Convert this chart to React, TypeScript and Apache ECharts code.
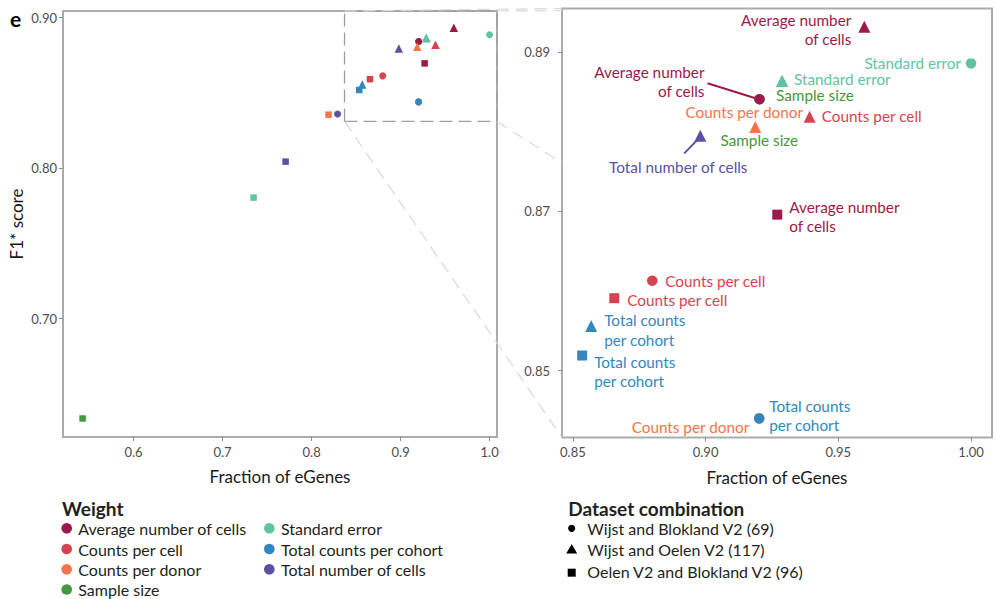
import React, { useEffect, useRef } from "react";
import * as echarts from "echarts";

// ---------- data ----------
const weights = [
  "Average number of cells",
  "Counts per cell",
  "Counts per donor",
  "Sample size",
  "Standard error",
  "Total counts per cohort",
  "Total number of cells",
];
const weightColors = ["#9C1A4B", "#D6434F", "#F37549", "#43993E", "#62C3A4", "#3288BD", "#5D4FA2"];

const datasets = ["Wijst and Blokland V2 (69)", "Wijst and Oelen V2 (117)", "Oelen V2 and Blokland V2 (96)"];
const datasetSymbols = ["circle", "triangle", "rect"];

// values per weight (same order as `weights`)
const fracWijstBlokland = [0.9203, 0.8799, 0.9202, 0.9203, 1.0, 0.9202, 0.8292];
const f1WijstBlokland = [0.8841, 0.8613, 0.844, 0.8841, 0.8886, 0.844, 0.836];
const fracWijstOelen = [0.9598, 0.9392, 0.9187, 0.9288, 0.9288, 0.8569, 0.898];
const f1WijstOelen = [0.8932, 0.8819, 0.8806, 0.8864, 0.8864, 0.8556, 0.8795];
const fracOelenBlokland = [0.927, 0.8656, 0.819, 0.5427, 0.7348, 0.8535, 0.7708];
const f1OelenBlokland = [0.8696, 0.8591, 0.8355, 0.6336, 0.7804, 0.8519, 0.8043];

const overviewXTicks = [0.6, 0.7, 0.8, 0.9, 1.0];
const overviewYTicks = [0.7, 0.8, 0.9];
const zoomXTicks = [0.85, 0.9, 0.95, 1.0];
const zoomYTicks = [0.85, 0.87, 0.89];

const overviewXRange = [0.5207, 1.0083];
const overviewYRange = [0.6213, 0.9044];
const zoomXRange = [0.8459, 1.0079];
const zoomYRange = [0.8416, 0.8955];
// dashed window drawn on the overview
const zoomWindowX = [0.837, 1.0083];
const zoomWindowY = [0.831, 0.9044];

// drawing order of weights (later ones drawn on top)
const drawOrder = [3, 2, 0, 1, 4, 5, 6];

// ---------- label layout for zoomed panel (key: dataset-weight) ----------
const zoomLabels: Record<string, { text: string; align: string; dx: number; dy: number }> = {
  "1-0": { text: "Average number\nof cells", align: "right", dx: -13, dy: 3 },
  "0-4": { text: "Standard error", align: "right", dx: -10, dy: 0 },
  "0-0": { text: "Average number\nof cells", align: "right", dx: -55, dy: -18 },
  "1-4": { text: "Standard error", align: "left", dx: 12, dy: -2 },
  "1-3": { text: "Sample size", align: "left", dx: -6, dy: 14.5 },
  "1-2": { text: "Counts per donor", align: "center", dx: -11, dy: -15 },
  "1-1": { text: "Counts per cell", align: "left", dx: 12, dy: -1 },
  "0-3": { text: "Sample size", align: "left", dx: -39, dy: 41 },
  "1-6": { text: "Total number of cells", align: "center", dx: -22, dy: 31 },
  "2-0": { text: "Average number\nof cells", align: "left", dx: 12, dy: 2 },
  "0-1": { text: "Counts per cell", align: "left", dx: 13, dy: 0 },
  "2-1": { text: "Counts per cell", align: "left", dx: 13, dy: 2 },
  "1-5": { text: "Total counts\nper cohort", align: "left", dx: 13, dy: 4 },
  "2-5": { text: "Total counts\nper cohort", align: "left", dx: 12, dy: 16 },
  "0-5": { text: "Total counts\nper cohort", align: "left", dx: 10, dy: -3 },
  "0-2": { text: "Counts per donor", align: "right", dx: -10, dy: 9 },
};

const FONT = "Lato";
const fracs = [fracWijstBlokland, fracWijstOelen, fracOelenBlokland];
const f1s = [f1WijstBlokland, f1WijstOelen, f1OelenBlokland];
const symbolSizes = [
  [7, 8.5, 6.5],
  [10.5, 12, 10],
];

function buildPoints(panel: number) {
  const items: any[] = [];
  datasets.forEach((_d, di) => {
    drawOrder.forEach((wi) => {
      const w = weights[wi];
      const item: any = {
        name: w,
        value: [fracs[di][wi], f1s[di][wi]],
        symbol: datasetSymbols[di],
        symbolSize: symbolSizes[panel][di],
        itemStyle: { color: weightColors[wi], opacity: 1 },
      };
      if (panel === 1) {
        const lab = zoomLabels[`${di}-${wi}`];
        if (lab) {
          const multi = lab.text.indexOf("\n") >= 0;
          item.label = {
            show: true,
            position: "inside",
            formatter: lab.text,
            offset: [lab.dx, lab.dy],
            align: lab.align,
            verticalAlign: "middle",
            color: weightColors[wi],
            fontSize: 15.3,
            fontFamily: FONT,
            lineHeight: multi ? 19.3 : 16,
            textBorderWidth: 0,
          };
        } else {
          item.label = { show: false };
        }
      }
      items.push(item);
    });
  });
  return items;
}

function axisCommon(ticks: number[], digits: number, margin: number) {
  return {
    type: "value" as const,
    axisLine: { show: false },
    splitLine: { show: false },
    axisTick: { show: true, length: 4, lineStyle: { color: "#8c8c8c", width: 1 }, customValues: ticks },
    axisLabel: {
      customValues: ticks,
      formatter: (v: number) => v.toFixed(digits),
      color: "#4d4d4d",
      fontSize: 13,
      fontFamily: FONT,
      margin,
    },
    nameLocation: "middle" as const,
    nameTextStyle: { fontSize: 17, color: "#1a1a1a", fontFamily: FONT },
  };
}

export default function App() {
  const ref = useRef<HTMLDivElement>(null);
  useEffect(() => {
    const chart = echarts.init(ref.current!, null, { renderer: "svg" });
    chart.setOption({
      animation: false,
      backgroundColor: "#ffffff",
      grid: [
        { left: 63, top: 11, width: 434, height: 426, show: true, borderColor: "#ababab", borderWidth: 2, backgroundColor: "rgba(0,0,0,0)" },
        { left: 562, top: 8.5, width: 430, height: 429, show: true, borderColor: "#ababab", borderWidth: 2, backgroundColor: "rgba(0,0,0,0)" },
      ],
      xAxis: [
        { ...axisCommon(overviewXTicks, 1, 8), gridIndex: 0, min: overviewXRange[0], max: overviewXRange[1], name: "Fraction of eGenes", nameGap: 31 },
        { ...axisCommon(zoomXTicks, 2, 8), gridIndex: 1, min: zoomXRange[0], max: zoomXRange[1], name: "Fraction of eGenes", nameGap: 31 },
      ],
      yAxis: [
        { ...axisCommon(overviewYTicks, 2, 6), gridIndex: 0, min: overviewYRange[0], max: overviewYRange[1], name: "F1* score", nameGap: 38 },
        { ...axisCommon(zoomYTicks, 2, 12), gridIndex: 1, min: zoomYRange[0], max: zoomYRange[1] },
      ],
      series: [
        {
          type: "scatter",
          xAxisIndex: 0,
          yAxisIndex: 0,
          data: buildPoints(0),
          silent: true,
          z: 3,
          markArea: {
            silent: true,
            itemStyle: { color: "rgba(0,0,0,0)", borderColor: "#9e9e9e", borderWidth: 1.3, borderType: [13, 6] },
            data: [[{ coord: [zoomWindowX[0], zoomWindowY[0]] }, { coord: [zoomWindowX[1], zoomWindowY[1]] }]],
          },
        },
        {
          type: "scatter",
          xAxisIndex: 1,
          yAxisIndex: 1,
          data: buildPoints(1),
          clip: true,
          silent: true,
          z: 3,
        },
      ],
    });

    const toPx = (g: number, v: number[]) => chart.convertToPixel({ xAxisIndex: g, yAxisIndex: g }, v) as number[];
    const boxTL = toPx(0, [zoomWindowX[0], zoomWindowY[1]]);
    const boxTR = toPx(0, [zoomWindowX[1], zoomWindowY[1]]);
    const boxBL = toPx(0, [zoomWindowX[0], zoomWindowY[0]]);
    const boxBR = toPx(0, [zoomWindowX[1], zoomWindowY[0]]);
    const zTL = toPx(1, [zoomXRange[0], zoomYRange[1]]);
    const zTR = toPx(1, [zoomXRange[1], zoomYRange[1]]);
    const zBL = toPx(1, [zoomXRange[0], zoomYRange[0]]);
    const zBR = toPx(1, [zoomXRange[1], zoomYRange[0]]);
    const zoomLeft = zTL[0];
    const connectors = [
      [boxTL, zTL],
      [boxTR, zTR],
      [boxBL, zBL],
      [boxBR, zBR],
    ].map(([a, b]) => {
      let end = b;
      if (b[0] > zoomLeft) {
        const t = (zoomLeft - a[0]) / (b[0] - a[0]);
        end = [zoomLeft, a[1] + t * (b[1] - a[1])];
      }
      return {
        type: "line",
        silent: true,
        z: 1,
        shape: { x1: a[0], y1: a[1], x2: end[0], y2: end[1] },
        style: { stroke: "#d9d9d9", lineWidth: 1.2, lineDash: [12, 7] },
      };
    });

    // leader lines for two labels
    const avgCircle = toPx(1, [fracWijstBlokland[0], f1WijstBlokland[0]]);
    const cellsTri = toPx(1, [fracWijstOelen[6], f1WijstOelen[6]]);
    const leaders = [
      { p: avgCircle, a: [-4, -1], b: [-52, -16], color: weightColors[0] },
      { p: cellsTri, a: [-2, 3], b: [-16, 17.5], color: weightColors[6] },
    ].map((l) => ({
      type: "line",
      silent: true,
      z: 2,
      shape: { x1: l.p[0] + l.a[0], y1: l.p[1] + l.a[1], x2: l.p[0] + l.b[0], y2: l.p[1] + l.b[1] },
      style: { stroke: l.color, lineWidth: 2 },
    }));

    // legends
    const legend: any[] = [];
    legend.push({ type: "text", x: 62, y: 508, style: { text: "Weight", fontSize: 19, fontWeight: "bold", fontFamily: FONT, fill: "#231f20", verticalAlign: "middle" } });
    const rowsY = [528.3, 549, 569.3, 589.5];
    weights.forEach((w, i) => {
      const col = i < 4 ? 0 : 1;
      const row = i < 4 ? i : i - 4;
      const cx = col === 0 ? 66.7 : 269.3;
      const y = rowsY[row];
      legend.push({ type: "circle", shape: { cx, cy: y, r: 5.3 }, style: { fill: weightColors[i] } });
      legend.push({ type: "text", x: cx + 11.6, y, style: { text: w, fontSize: 16, fontFamily: FONT, fill: "#231f20", verticalAlign: "middle" } });
    });
    legend.push({ type: "text", x: 568.3, y: 508, style: { text: "Dataset combination", fontSize: 19, fontWeight: "bold", fontFamily: FONT, fill: "#231f20", verticalAlign: "middle" } });
    const dsY = [528.3, 549, 571.7];
    datasets.forEach((d, i) => {
      const cx = 571.7;
      const y = dsY[i];
      if (datasetSymbols[i] === "circle") legend.push({ type: "circle", shape: { cx, cy: y, r: 3.6 }, style: { fill: "#000" } });
      else if (datasetSymbols[i] === "triangle")
        legend.push({ type: "polygon", shape: { points: [[cx, y - 5], [cx + 5.5, y + 4.5], [cx - 5.5, y + 4.5]] }, style: { fill: "#000" } });
      else legend.push({ type: "rect", shape: { x: cx - 4, y: y - 3, width: 8, height: 8 }, style: { fill: "#000" } });
      legend.push({ type: "text", x: 587.3, y, style: { text: d, fontSize: 16, fontFamily: FONT, fill: "#231f20", verticalAlign: "middle" } });
    });
    legend.push({ type: "text", x: 10, y: 18, style: { text: "e", fontSize: 21, fontWeight: "bold", fontFamily: FONT, fill: "#000", verticalAlign: "middle" } });

    chart.setOption({ graphic: [...connectors, ...leaders, ...legend] });
    return () => chart.dispose();
  }, []);
  return <div ref={ref} style={{ position: "absolute", left: 0, top: 0, width: 995, height: 599, background: "#fff" }} />;
}
